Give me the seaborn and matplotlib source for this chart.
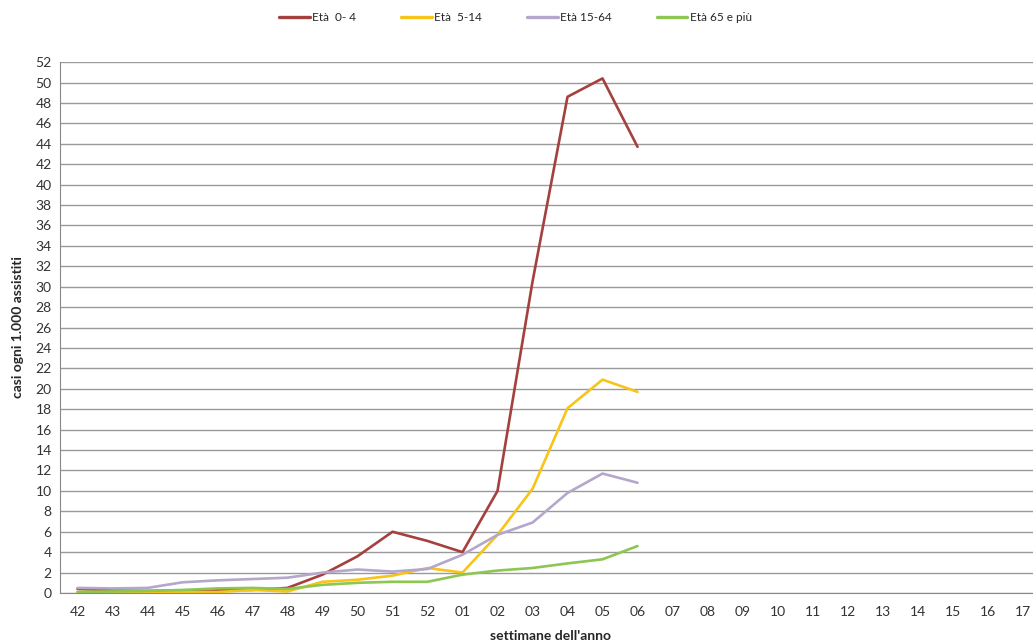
import matplotlib
matplotlib.use("Agg")
import matplotlib.pyplot as plt
from matplotlib.ticker import FixedLocator
import pandas as pd
import seaborn as sns

# week labels on the x axis (season 2012/13)
weeks = ["42", "43", "44", "45", "46", "47", "48", "49", "50", "51", "52",
         "01", "02", "03", "04", "05", "06", "07", "08", "09", "10", "11",
         "12", "13", "14", "15", "16", "17"]

# cases per 1,000 assisted, by age group (weeks 42 .. 06)
eta_0_4 = [0.4, 0.25, 0.2, 0.25, 0.3, 0.3, 0.5, 1.8, 3.6, 6.0, 5.1,
           4.0, 10.0, 30.5, 48.6, 50.4, 43.7]
eta_5_14 = [0.1, 0.1, 0.1, 0.1, 0.1, 0.3, 0.15, 1.1, 1.3, 1.7, 2.45,
            2.0, 5.7, 10.2, 18.1, 20.9, 19.7]
eta_15_64 = [0.5, 0.45, 0.5, 1.05, 1.24, 1.37, 1.5, 2.0, 2.3, 2.1, 2.35,
             3.75, 5.7, 6.9, 9.8, 11.7, 10.8]
eta_65 = [0.1, 0.15, 0.2, 0.3, 0.45, 0.5, 0.4, 0.8, 1.0, 1.1, 1.1,
          1.8, 2.2, 2.45, 2.9, 3.3, 4.6]

series = {
    "Età  0- 4": eta_0_4,
    "Età  5-14": eta_5_14,
    "Età 15-64": eta_15_64,
    "Età 65 e più": eta_65,
}
colors = ["#A4403E", "#F7C41A", "#B4A7CB", "#8DC652"]

rows = []
for name, vals in series.items():
    for i, v in enumerate(vals):
        rows.append({"pos": i, "valore": v, "gruppo": name})
df = pd.DataFrame(rows)

sns.set_style("white")
plt.rcParams["font.family"] = ["Lato", "DejaVu Sans"]

fig = plt.figure(figsize=(10.33, 6.42), dpi=100)
ax = fig.add_axes([0.0581, 0.0763, 0.9487, 0.827])

sns.lineplot(data=df, x="pos", y="valore", hue="gruppo",
             hue_order=list(series.keys()), palette=colors,
             linewidth=1.9, ax=ax, legend=False)

ax.set_xlim(-0.5, len(weeks) - 0.5)
ax.set_ylim(0, 52)
ax.set_yticks(range(0, 53, 2))
ax.yaxis.grid(True, color="#9a9a9a", linewidth=1)
ax.set_axisbelow(True)

ax.set_xticks(range(len(weeks)))
ax.set_xticklabels(weeks, fontsize=10, color="#333333")
ax.xaxis.set_minor_locator(FixedLocator([i - 0.5 for i in range(len(weeks) + 1)]))
ax.tick_params(axis="x", which="major", length=0, pad=9)
ax.tick_params(axis="x", which="minor", length=5, color="#888888", width=1)
ax.tick_params(axis="y", labelsize=10, length=0, pad=6, labelcolor="#333333")

for s in ["top", "right"]:
    ax.spines[s].set_visible(False)
ax.spines["left"].set_color("#888888")
ax.spines["bottom"].set_color("#888888")

ax.set_xlabel("settimane dell'anno", fontsize=10, fontweight="bold", labelpad=9)
ax.set_ylabel("casi ogni 1.000 assistiti", fontsize=10, fontweight="bold", labelpad=8)

handles = [plt.Line2D([], [], color=c, linewidth=2.4) for c in colors]
fig.legend(handles, list(series.keys()), loc="center", ncol=4,
           bbox_to_anchor=(0.499, 0.972), frameon=False, fontsize=8.5,
           handlelength=2.6, handletextpad=0.2, columnspacing=3.8)

fig.savefig("out.png", dpi=100)
